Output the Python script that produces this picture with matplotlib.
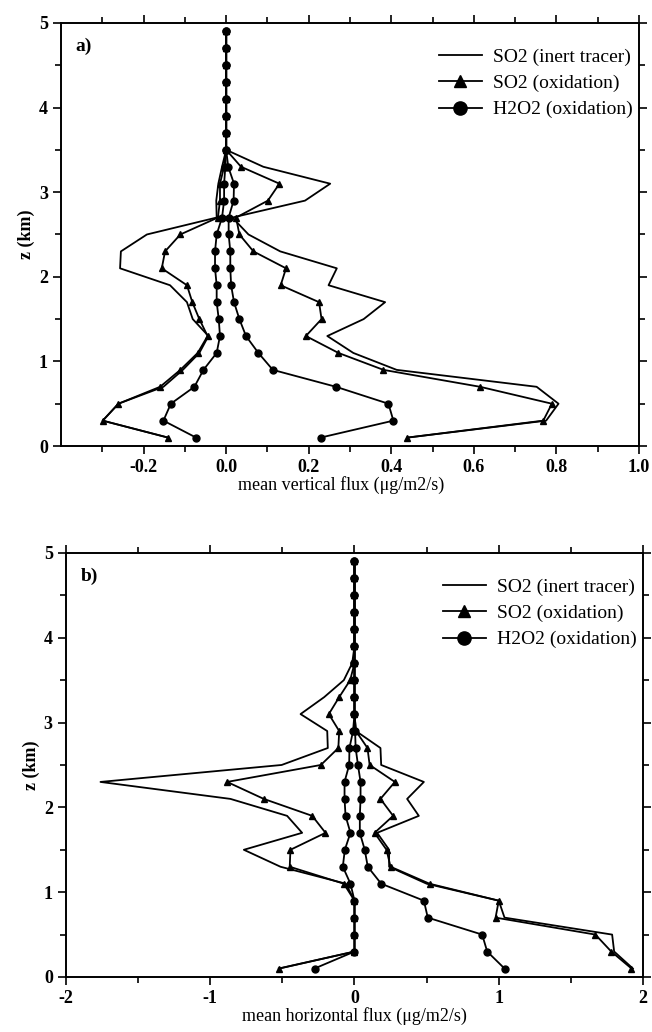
import numpy as np
import matplotlib
matplotlib.use('Agg')
import matplotlib.pyplot as plt

plt.rcParams['font.family'] = ['Liberation Serif', 'DejaVu Serif']
plt.rcParams['axes.unicode_minus'] = False

# model levels (km)
z = [0.1, 0.3, 0.5, 0.7, 0.9, 1.1, 1.3, 1.5, 1.7, 1.9, 2.1, 2.3, 2.5,
     2.7, 2.9, 3.1, 3.3, 3.5, 3.7, 3.9, 4.1, 4.3, 4.5, 4.7, 4.9]
zeros8 = [0, 0, 0, 0, 0, 0, 0, 0]

# a) mean vertical flux, upward (pos) / downward (neg) parts
a_inert_pos = [0.44, 0.775, 0.805, 0.752, 0.413, 0.308, 0.245, 0.333, 0.385, 0.248, 0.268, 0.131,
               0.054, 0.015, 0.191, 0.252, 0.090] + zeros8
a_inert_neg = [-0.141, -0.299, -0.261, -0.152, -0.105, -0.065, -0.043, -0.081, -0.095, -0.136, -0.257,
               -0.255, -0.192, -0.023, -0.024, -0.019, -0.010] + zeros8
a_ox_pos = [0.439, 0.768, 0.789, 0.615, 0.381, 0.272, 0.193, 0.231, 0.225, 0.132, 0.145, 0.066,
            0.032, 0.024, 0.101, 0.129, 0.036] + zeros8
a_ox_neg = [-0.141, -0.299, -0.261, -0.160, -0.111, -0.069, -0.045, -0.065, -0.082, -0.095, -0.156,
            -0.148, -0.111, -0.020, -0.015, -0.015, -0.005] + zeros8
a_h2o2_pos = [0.229, 0.405, 0.393, 0.266, 0.113, 0.078, 0.048, 0.032, 0.019, 0.012, 0.010, 0.010,
              0.006, 0.006, 0.018, 0.019, 0.005] + zeros8
a_h2o2_neg = [-0.073, -0.152, -0.134, -0.077, -0.055, -0.023, -0.015, -0.018, -0.023, -0.023, -0.027,
              -0.027, -0.023, -0.010, -0.005, -0.005, -0.002] + zeros8

# b) mean horizontal flux
b_inert_pos = [1.93, 1.80, 1.786, 1.04, 1.0, 0.50, 0.24, 0.24, 0.157, 0.446, 0.365, 0.481,
               0.185, 0.18, 0.01, 0, 0] + zeros8
b_inert_neg = [-0.52, 0, 0, 0, 0, -0.06, -0.513, -0.767, -0.363, -0.467, -0.86, -1.761,
               -0.505, -0.185, -0.189, -0.374, -0.21, -0.074, -0.016, 0, 0, 0, 0, 0, 0]
b_ox_pos = [1.92, 1.78, 1.67, 0.978, 1.0, 0.52, 0.25, 0.222, 0.139, 0.268, 0.18, 0.28,
            0.105, 0.09, 0.01, 0, 0] + zeros8
b_ox_neg = [-0.525, 0, 0, 0, 0, -0.074, -0.449, -0.444, -0.201, -0.293, -0.629, -0.883,
            -0.233, -0.112, -0.106, -0.178, -0.106, -0.03] + [0, 0, 0, 0, 0, 0, 0]
b_h2o2_pos = [1.04, 0.92, 0.885, 0.508, 0.481, 0.185, 0.092, 0.071, 0.037, 0.037, 0.042, 0.042,
              0.024, 0.008, 0.004, 0, 0] + zeros8
b_h2o2_neg = [-0.277, 0, 0, 0, 0, -0.028, -0.081, -0.067, -0.028, -0.062, -0.069, -0.069,
              -0.037, -0.035, -0.010, 0, 0] + zeros8

labels = ['SO2 (inert tracer)', 'SO2 (oxidation)', 'H2O2 (oxidation)']

fig = plt.figure(figsize=(6.52, 10.32), dpi=100)
ax_a = fig.add_axes([0.0936, 0.5678, 0.8865, 0.41])
ax_b = fig.add_axes([0.1012, 0.0533, 0.885, 0.4109])


def draw(ax, inert, ox, h2o2, tag, xlabel, xlim, major, minor, fmt, label_x):
    lw = 1.3
    ax.plot(inert[0], z, color='black', lw=lw, label=labels[0])
    ax.plot(inert[1], z, color='black', lw=lw)
    ax.plot(ox[0], z, color='black', lw=lw, marker='^', ms=4.5, label=labels[1])
    ax.plot(ox[1], z, color='black', lw=lw, marker='^', ms=4.5)
    ax.plot(h2o2[0], z, color='black', lw=lw, marker='o', ms=5, label=labels[2])
    ax.plot(h2o2[1], z, color='black', lw=lw, marker='o', ms=5)

    ax.set_xlim(*xlim)
    ax.set_ylim(0, 5)
    ax.set_xticks(major)
    ax.set_xticks(minor, minor=True)
    ax.set_xticklabels([fmt % v for v in major])
    ax.set_yticks([0, 1, 2, 3, 4, 5])
    ax.set_yticks([0.5, 1.5, 2.5, 3.5, 4.5], minor=True)
    ax.tick_params(which='both', direction='out', top=True, right=True, width=1.2)
    ax.tick_params(which='major', length=6, labelsize=13)
    ax.tick_params(which='minor', length=4)
    for lab in ax.get_xticklabels() + ax.get_yticklabels():
        lab.set_fontweight('bold')
    for sp in ax.spines.values():
        sp.set_linewidth(1.4)

    ax.set_xlabel(xlabel, fontsize=13)
    ax.xaxis.set_label_coords(label_x, -0.072)
    ax.set_ylabel('z (km)', fontsize=13, fontweight='bold', labelpad=3)
    ax.text(0.025, 0.965, tag, transform=ax.transAxes, fontsize=14,
            fontweight='bold', va='top', ha='left')
    ax.legend(loc='upper right', bbox_to_anchor=(0.99, 0.941), frameon=False, fontsize=14,
              handlelength=2.2, markerscale=1.9, labelspacing=0.45, borderaxespad=0,
              borderpad=0, handletextpad=0.6)


draw(ax_a, (a_inert_pos, a_inert_neg), (a_ox_pos, a_ox_neg), (a_h2o2_pos, a_h2o2_neg),
     'a)', 'mean vertical flux (\u03bcg/m2/s)', (-0.4, 1.0),
     [-0.2, 0.0, 0.2, 0.4, 0.6, 0.8, 1.0], [-0.3, -0.1, 0.1, 0.3, 0.5, 0.7, 0.9], '%.1f', 0.485)
draw(ax_b, (b_inert_pos, b_inert_neg), (b_ox_pos, b_ox_neg), (b_h2o2_pos, b_h2o2_neg),
     'b)', 'mean horizontal flux (\u03bcg/m2/s)', (-2, 2),
     [-2, -1, 0, 1, 2], [-1.5, -0.5, 0.5, 1.5], '%d', 0.5)

fig.savefig('out.png', dpi=100)
